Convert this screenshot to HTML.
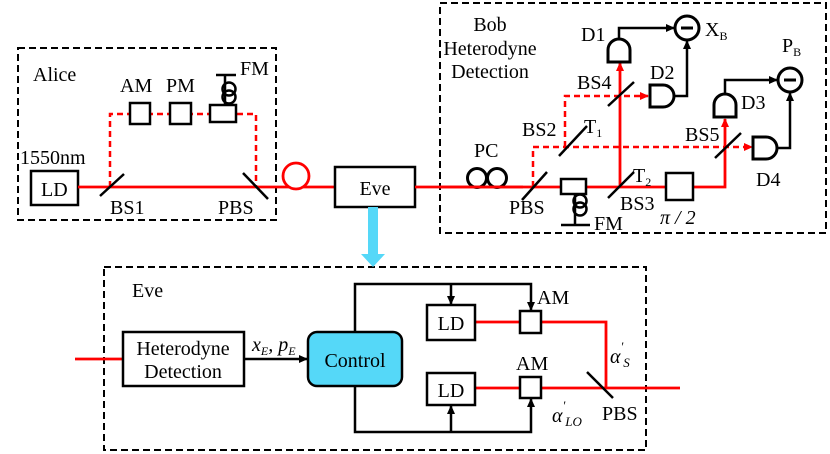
<!DOCTYPE html>
<html><head><meta charset="utf-8"><style>body{margin:0;background:#fff}svg{display:block}svg text{font-family:"Liberation Serif","DejaVu Serif",serif;font-size:20px;fill:#000}</style></head><body>
<svg width="830" height="454" viewBox="0 0 830 454" xmlns="http://www.w3.org/2000/svg" font-family="Liberation Serif, DejaVu Serif, serif">
<defs>
<marker id="ab" markerWidth="9" markerHeight="9" refX="8" refY="4.5" orient="auto" markerUnits="userSpaceOnUse"><path d="M0,0.5 L9,4.5 L0,8.5 Z" fill="#000"/></marker>
<marker id="ar" markerWidth="9" markerHeight="9" refX="8" refY="4.5" orient="auto" markerUnits="userSpaceOnUse"><path d="M0,0.5 L9,4.5 L0,8.5 Z" fill="#f00"/></marker>
</defs>
<g fill="none" stroke="#000" stroke-width="2" stroke-dasharray="7,4">
<rect x="18" y="48" width="258" height="172"/>
<rect x="440" y="3" width="386" height="230"/>
<rect x="104" y="267" width="542" height="183"/>
</g>
<!-- Alice -->
<text x="33" y="81">Alice</text>
<text x="20" y="164">1550nm</text>
<rect x="31" y="171" width="47" height="34" fill="none" stroke="#000" stroke-width="2.5"/>
<text x="41" y="196">LD</text>
<line x1="78" y1="187" x2="335" y2="187" stroke="#f00" stroke-width="2.8"/>
<path d="M110,187 V114 H256 V187" fill="none" stroke="#f00" stroke-width="2.5" stroke-dasharray="6,4"/>
<g fill="#fff" stroke="#000" stroke-width="2.5">
<rect x="130" y="103" width="20" height="21"/><rect x="170" y="103" width="21" height="21"/><rect x="210" y="105" width="26" height="17"/>
</g>
<path d="M216,75 H236 M225,75 V105" stroke="#000" stroke-width="2.5"/>
<circle cx="229" cy="89" r="6.5" fill="none" stroke="#000" stroke-width="2.5"/><circle cx="229" cy="97" r="6.5" fill="none" stroke="#000" stroke-width="2.5"/>
<line x1="100" y1="196" x2="124" y2="174" stroke="#000" stroke-width="2.5"/>
<line x1="243" y1="173" x2="268" y2="199" stroke="#000" stroke-width="2.5"/>
<text x="120" y="92">AM</text><text x="166" y="92">PM</text><text x="240" y="75">FM</text>
<text x="110" y="214">BS1</text><text x="218" y="214">PBS</text>
<circle cx="296" cy="176" r="13" fill="#fff" stroke="#f00" stroke-width="2.8"/>
<rect x="335" y="167" width="80" height="40" fill="#fff" stroke="#000" stroke-width="2.5"/>
<text x="375" y="195" text-anchor="middle">Eve</text>
<line x1="415" y1="187" x2="523" y2="187" stroke="#f00" stroke-width="2.8"/>
<rect x="368" y="207" width="10" height="50" fill="#55d8f8"/>
<path d="M361,254 H385 L373,267 Z" fill="#55d8f8"/>
<!-- Bob -->
<text x="490" y="31" text-anchor="middle">Bob</text>
<text x="490" y="55" text-anchor="middle">Heterodyne</text>
<text x="490" y="78" text-anchor="middle">Detection</text>
<circle cx="477" cy="178" r="9.5" fill="none" stroke="#000" stroke-width="3"/><circle cx="497" cy="178" r="9.5" fill="none" stroke="#000" stroke-width="3"/>
<text x="474" y="157">PC</text>
<line x1="440" y1="187" x2="666" y2="187" stroke="#f00" stroke-width="2.8"/>
<path d="M693,187 H725 V119" fill="none" stroke="#f00" stroke-width="2.8" marker-end="url(#ar)"/>
<line x1="620" y1="187" x2="620" y2="63" stroke="#f00" stroke-width="2.8" marker-end="url(#ar)"/>
<path d="M533,187 V147 H752" fill="none" stroke="#f00" stroke-width="2.5" stroke-dasharray="6,4" marker-end="url(#ar)"/>
<path d="M565,147 V96 H648" fill="none" stroke="#f00" stroke-width="2.5" stroke-dasharray="6,4" marker-end="url(#ar)"/>
<g stroke="#000" stroke-width="2.5">
<line x1="522" y1="200" x2="547" y2="172"/>
<line x1="559" y1="156" x2="587" y2="126"/>
<line x1="608" y1="198" x2="634" y2="172"/>
<line x1="608" y1="106" x2="634" y2="82"/>
<line x1="715" y1="158" x2="741" y2="133"/>
</g>
<rect x="561" y="179" width="25" height="15" fill="#fff" stroke="#000" stroke-width="2.5"/>
<path d="M575,194 V225 M561,225 H590" stroke="#000" stroke-width="2.5"/>
<circle cx="580" cy="201" r="6.5" fill="none" stroke="#000" stroke-width="2.5"/><circle cx="580" cy="209" r="6.5" fill="none" stroke="#000" stroke-width="2.5"/>
<rect x="666" y="173" width="27" height="27" fill="#fff" stroke="#000" stroke-width="2.5"/>
<!-- detectors -->
<g fill="#fff" stroke="#000" stroke-width="3">
<path d="M608,62 V50 A11,11 0 0 1 630,50 V62 Z"/>
<path d="M650,85 H663 A11,11 0 0 1 663,107 H650 Z"/>
<path d="M714,117 V105 A11,11 0 0 1 736,105 V117 Z"/>
<path d="M753,137 H766 A11,11 0 0 1 766,159 H753 Z"/>
</g>
<g fill="none" stroke="#000" stroke-width="2.5">
<path d="M619,39 V28 H674" marker-end="url(#ab)"/>
<path d="M675,96 H687 V41" marker-end="url(#ab)"/>
<path d="M725,94 V80 H777" marker-end="url(#ab)"/>
<path d="M777,148 H790 V93" marker-end="url(#ab)"/>
<circle cx="687" cy="28" r="12" stroke-width="3"/>
<circle cx="790" cy="80" r="12" stroke-width="3"/>
</g>
<path d="M681,28 H693 M784,80 H796" stroke="#000" stroke-width="3"/>
<text x="705" y="36">X<tspan font-size="12" dy="4">B</tspan></text>
<text x="782" y="52">P<tspan font-size="12" dy="4">B</tspan></text>
<text x="581" y="41">D1</text><text x="650" y="79">D2</text><text x="741" y="109">D3</text><text x="756" y="186">D4</text>
<text x="577" y="89">BS4</text><text x="522" y="136">BS2</text><text x="584" y="133">T<tspan font-size="12" dy="4">1</tspan></text>
<text x="685" y="141">BS5</text><text x="633" y="182">T<tspan font-size="12" dy="4">2</tspan></text>
<text x="620" y="210">BS3</text><text x="509" y="214">PBS</text><text x="594" y="230">FM</text>
<text x="660" y="224" font-style="italic">π / 2</text>
<!-- Eve detail -->
<text x="132" y="297">Eve</text>
<line x1="75" y1="359" x2="123" y2="359" stroke="#f00" stroke-width="2.8"/>
<rect x="123" y="332" width="121" height="54" fill="#fff" stroke="#000" stroke-width="2.5"/>
<text x="183" y="355" text-anchor="middle" font-size="21">Heterodyne</text>
<text x="183" y="378" text-anchor="middle" font-size="21">Detection</text>
<line x1="244" y1="359" x2="307" y2="359" stroke="#000" stroke-width="2.5" marker-end="url(#ab)"/>
<text x="252" y="351" font-style="italic">x<tspan font-size="12" dy="4">E</tspan><tspan dy="-4">, p</tspan><tspan font-size="12" dy="4">E</tspan></text>
<rect x="308" y="332" width="94" height="54" rx="9" fill="#55d8f8" stroke="#000" stroke-width="2.5"/>
<text x="355" y="367" text-anchor="middle">Control</text>
<g fill="none" stroke="#000" stroke-width="2.5">
<path d="M355,332 V284 H531 V310" marker-end="url(#ab)"/>
<path d="M451,284 V304" marker-end="url(#ab)"/>
<path d="M355,386 V432 H531 V399" marker-end="url(#ab)"/>
<path d="M451,432 V406" marker-end="url(#ab)"/>
</g>
<path d="M475,322 H520 M541,322 H606 V388 M475,388 H680" fill="none" stroke="#f00" stroke-width="2.8"/>
<g fill="#fff" stroke="#000" stroke-width="2.5">
<rect x="427" y="305" width="48" height="35"/><rect x="427" y="373" width="48" height="32"/>
<rect x="520" y="311" width="21" height="22"/><rect x="520" y="377" width="21" height="21"/>
</g>
<text x="451" y="330" text-anchor="middle">LD</text><text x="451" y="397" text-anchor="middle">LD</text>
<text x="537" y="304">AM</text><text x="516" y="370">AM</text>
<line x1="587" y1="372" x2="613" y2="398" stroke="#000" stroke-width="2.5"/>
<text x="602" y="420">PBS</text>
<text x="610" y="363" font-style="italic" font-size="26">α<tspan font-size="13" dy="-12">'</tspan><tspan font-size="13" dy="16">S</tspan></text>
<text x="552" y="422" font-style="italic" font-size="26">α<tspan font-size="13" dy="-12">'</tspan><tspan font-size="13" dy="16">LO</tspan></text>
</svg>
</body></html>
